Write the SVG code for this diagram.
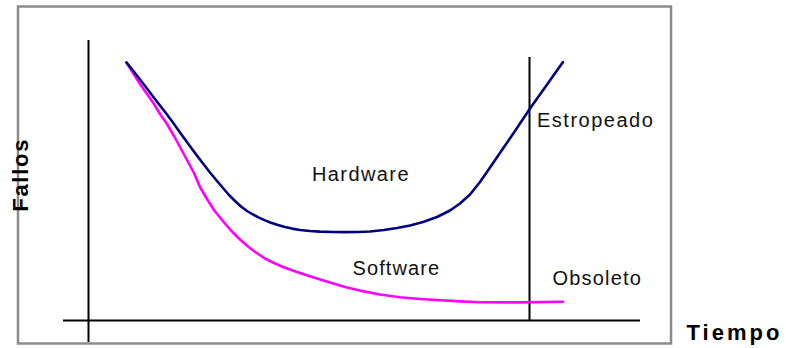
<svg xmlns="http://www.w3.org/2000/svg" width="786" height="348" viewBox="0 0 786 348">
  <style>
    .frame { fill: #ffffff; stroke: #8c8c8c; stroke-width: 2.5; }
    .axis { stroke: #000000; stroke-width: 2; fill: none; }
    .curve { fill: none; stroke-width: 2.6; stroke-linejoin: round; stroke-linecap: round; }
    .hw { stroke: #000080; }
    .sw { stroke: #ff00ff; }
    .lbl { font-family: "Liberation Sans", Arial, sans-serif; font-size: 20px; fill: #111111; letter-spacing: 1.4px; }
    .ax-lbl { font-family: "Liberation Sans", Arial, sans-serif; font-size: 22px; font-weight: bold; fill: #000000; }
  </style>
  <rect width="786" height="348" fill="#ffffff"/>
  <rect class="frame" x="18" y="6.5" width="653" height="337"/>

  <g id="axes">
    <line class="axis" x1="88.5" y1="40" x2="88.5" y2="342"/>
    <line class="axis" x1="63" y1="320.5" x2="640" y2="320.5"/>
    <line class="axis" x1="529.5" y1="57" x2="529.5" y2="320.5"/>
  </g>

  <g id="curves">
    <!-- software curve drawn first so the hardware curve sits on top at the shared start -->
    <polyline id="software-curve" class="curve sw" points="126.5,62.5 133,73 140,84 147,94 154,104 160,114 167,124 174,136 180,147 187,160 194,173 200,187 207,199 214,210 222,220 231,230.5 240,239.5 248,246.5 256,252.5 265,258.5 274,263 283,267 292,270.3 300,273 313,277.2 330,282.6 345,287 360,290.6 380,294.5 400,297.2 420,299 440,300.3 460,301.4 480,302.3 520,302.4 563,301.8"/>
    <polyline id="hardware-curve" class="curve hw" points="126.5,62.5 133,70.5 140,79.5 147,88.5 153,96.5 160,105.5 167,114.5 174,124 180,132.5 188,143.5 195,153 203,163.5 210,172.5 217,181 223,188 229,195 235,201 241,206.5 247,211 253,214.5 259,217.6 265,220.4 271,222.8 278,225 285,227 292,228.6 300,230 310,231 320,231.6 333,232 345,232.1 358,232 370,231.5 384,230 397,228 410,225.5 423,222 437,217 450,210.5 460,203.5 470,194.5 480,182 490,167.5 502,150 516,129.5 530,108.5 546,86 563,62"/>
  </g>

  <g id="labels">
    <text class="lbl" x="312" y="181">Hardware</text>
    <text class="lbl" x="352.5" y="275" style="letter-spacing:1.1px">Software</text>
    <text class="lbl" x="537" y="126.5" style="letter-spacing:1.5px">Estropeado</text>
    <text class="lbl" x="552.5" y="285" style="letter-spacing:1.2px">Obsoleto</text>
  </g>

  <g id="axis-labels">
    <text class="ax-lbl" x="686.5" y="340" style="letter-spacing:3px">Tiempo</text>
    <text class="ax-lbl" transform="translate(28.3,211.7) rotate(-90)" x="0" y="0" style="letter-spacing:1.7px">Fallos</text>
  </g>
</svg>
